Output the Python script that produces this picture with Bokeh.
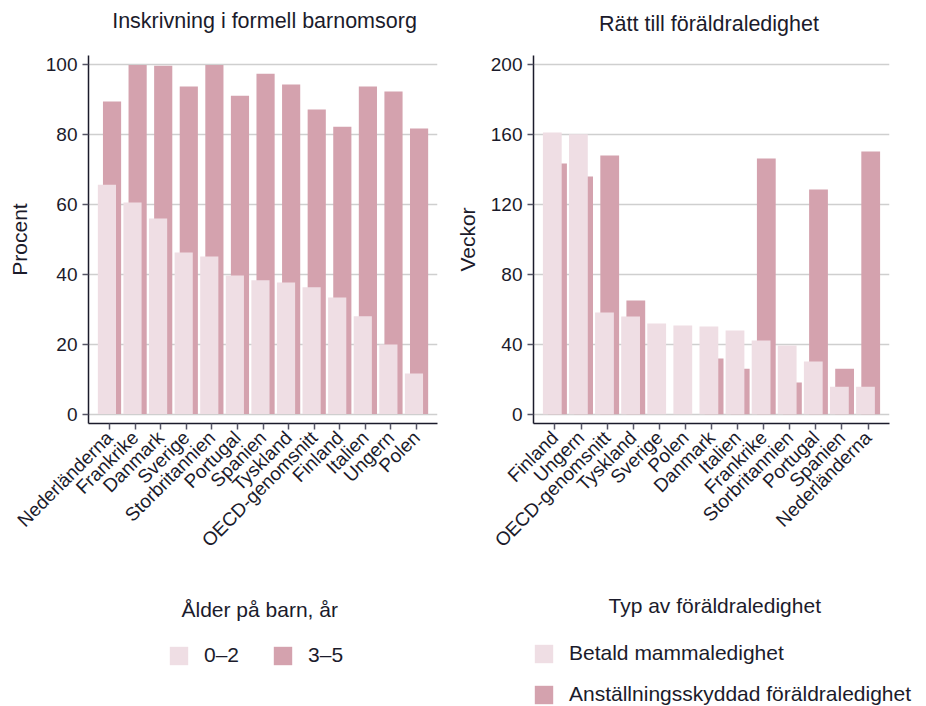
import math
from bokeh.plotting import figure
from bokeh.models import (FactorRange, Range1d, Legend, LegendItem, Label,
                          ColumnDataSource, FixedTicker)
from bokeh.transform import dodge
from bokeh.layouts import row, column
from bokeh.embed import file_html
from bokeh.resources import INLINE

# ---- data: enrolment in formal childcare (%) ----
care_countries = ["Nederländerna", "Frankrike", "Danmark", "Sverige", "Storbritannien",
                  "Portugal", "Spanien", "Tyskland", "OECD-genomsnitt", "Finland",
                  "Italien", "Ungern", "Polen"]
care_0_2 = [65.7, 60.6, 56.0, 46.3, 45.1, 39.7, 38.3, 37.7, 36.3, 33.4, 28.0, 19.9, 11.6]
care_3_5 = [89.5, 100.0, 99.8, 93.8, 100.0, 91.2, 97.5, 94.4, 87.2, 82.3, 93.8, 92.4, 81.8]

# ---- data: right to parental leave (weeks) ----
leave_countries = ["Finland", "Ungern", "OECD-genomsnitt", "Tyskland", "Sverige", "Polen",
                   "Danmark", "Italien", "Frankrike", "Storbritannien", "Portugal",
                   "Spanien", "Nederländerna"]
leave_paid = [161.3, 160.3, 58.2, 55.9, 51.9, 50.8, 50.2, 47.9, 42.2, 39.3, 30.2, 15.8, 15.8]
leave_protected = [143.5, 136.1, 148.1, 65.1, 0, 0, 31.9, 26.1, 146.4, 18.1, 128.6, 26.1, 150.4]

care_ticks = [0, 20, 40, 60, 80, 100]
leave_ticks = [0, 40, 80, 120, 160, 200]

LIGHT = "#efdee4"
DARK = "#d4a2ae"
TEXT = "#1b1b2b"
GRID = "#cfcfcf"
FONT = "Liberation Sans"

HEAD_H = 40
MAIN_H = 535
LEG_H = 131
W1, W2 = 448, 478


def style(p, ylabel):
    p.outline_line_color = None
    p.xgrid.grid_line_color = None
    p.ygrid.grid_line_color = GRID
    p.ygrid.grid_line_width = 1.5
    for ax in (p.xaxis[0], p.yaxis[0]):
        ax.axis_line_color = TEXT
        ax.axis_line_width = 1.5
        ax.major_tick_line_color = "#555566"
        ax.major_tick_line_width = 1.5
        ax.major_tick_out = 6
        ax.major_tick_in = 0
        ax.minor_tick_line_color = None
        ax.major_label_text_font = FONT
        ax.major_label_text_font_size = "19px"
        ax.major_label_text_color = TEXT
    p.xaxis.major_label_orientation = math.pi / 4
    p.yaxis.axis_label = ylabel
    p.yaxis.axis_label_text_font = FONT
    p.yaxis.axis_label_text_font_size = "21px"
    p.yaxis.axis_label_text_font_style = "normal"
    p.yaxis.axis_label_text_color = TEXT


def blank_fig(width, height, x_range, y_range):
    f = figure(width=width, height=height, x_range=x_range, y_range=y_range,
               x_axis_type=None, y_axis_type=None, toolbar_location=None,
               output_backend="svg", min_border=0)
    f.outline_line_color = None
    return f


def text_label(x, y, text, size="21px", align="left"):
    return Label(x=x, y=y, x_units="screen", y_units="screen", text=text,
                 text_font=FONT, text_font_size=size, text_color=TEXT,
                 text_baseline="alphabetic", text_align=align)


# ---------------- headers (chart titles) ----------------
h1 = blank_fig(W1, HEAD_H, Range1d(0, 1), Range1d(0, 1))
h1.add_layout(text_label(264, 19.5, "Inskrivning i formell barnomsorg", "21.5px", "center"))
h2 = blank_fig(W2, HEAD_H, Range1d(0, 1), Range1d(0, 1))
h2.add_layout(text_label(708.5 - W1, 16.5, "Rätt till föräldraledighet", "21.5px", "center"))

# ---------------- left chart ----------------
src1 = ColumnDataSource(dict(c=care_countries, a=care_0_2, b=care_3_5))
p1 = figure(x_range=FactorRange(*care_countries, range_padding=0.32,
                                range_padding_units="absolute"),
            y_range=Range1d(-2.7, 102.7),
            width=W1, height=MAIN_H, output_backend="svg", toolbar_location=None,
            min_border_left=88, min_border_right=W1 - 437, min_border_top=15,
            min_border_bottom=152)
p1.vbar(x=dodge("c", 0.1, range=p1.x_range), top="b", width=0.71,
        source=src1, fill_color=DARK, line_color=None)
p1.vbar(x=dodge("c", -0.1, range=p1.x_range), top="a", width=0.71,
        source=src1, fill_color=LIGHT, line_color=None)
style(p1, "Procent")
p1.yaxis.ticker = FixedTicker(ticks=care_ticks)
p1.yaxis.axis_label_standoff = 12

# ---------------- right chart ----------------
src2 = ColumnDataSource(dict(c=leave_countries, a=leave_paid, b=leave_protected))
p2 = figure(x_range=FactorRange(*leave_countries, range_padding=0.32,
                                range_padding_units="absolute"),
            y_range=Range1d(-5.3, 205.3),
            width=W2, height=MAIN_H, output_backend="svg", toolbar_location=None,
            min_border_left=533 - W1, min_border_right=37, min_border_top=15,
            min_border_bottom=152)
p2.vbar(x=dodge("c", 0.1, range=p2.x_range), top="b", width=0.72,
        source=src2, fill_color=DARK, line_color=None)
p2.vbar(x=dodge("c", -0.1, range=p2.x_range), top="a", width=0.72,
        source=src2, fill_color=LIGHT, line_color=None)
style(p2, "Veckor")
p2.yaxis.ticker = FixedTicker(ticks=leave_ticks)
p2.yaxis.axis_label_standoff = 9

# ---------------- legends (hidden copies of the series supply the keys) ----------------
l1 = blank_fig(W1, LEG_H, FactorRange(*care_countries), Range1d(0, 100))
k1a = l1.vbar(x="c", top="a", width=0.5, source=src1, fill_color=LIGHT,
              line_color=None, visible=False)
k1b = l1.vbar(x="c", top="b", width=0.5, source=src1, fill_color=DARK,
              line_color=None, visible=False)
leg1 = Legend(items=[LegendItem(label="0–2", renderers=[k1a]),
                     LegendItem(label="3–5", renderers=[k1b])],
              orientation="horizontal", location=(167, 39),
              glyph_width=23, glyph_height=23, label_standoff=14, spacing=32,
              padding=0, margin=0, border_line_color=None,
              background_fill_alpha=0, inactive_fill_alpha=0,
              label_text_font=FONT, label_text_font_size="21px",
              label_text_color=TEXT)
l1.add_layout(leg1, "center")
l1.add_layout(text_label(181, 97, "Ålder på barn, år"))

l2 = blank_fig(W2, LEG_H, FactorRange(*leave_countries), Range1d(0, 200))
k2a = l2.vbar(x="c", top="a", width=0.5, source=src2, fill_color=LIGHT,
              line_color=None, visible=False)
k2b = l2.vbar(x="c", top="b", width=0.5, source=src2, fill_color=DARK,
              line_color=None, visible=False)
leg2 = Legend(items=[LegendItem(label="Betald mammaledighet", renderers=[k2a]),
                     LegendItem(label="Anställningsskyddad föräldraledighet", renderers=[k2b])],
              orientation="vertical", location=(532 - W1, 0),
              glyph_width=23, glyph_height=23, label_standoff=14, spacing=17,
              padding=0, margin=0, border_line_color=None,
              background_fill_alpha=0, inactive_fill_alpha=0,
              label_text_font=FONT, label_text_font_size="21px",
              label_text_color=TEXT)
l2.add_layout(leg2, "center")
l2.add_layout(text_label(608 - W1, 101, "Typ av föräldraledighet"))

layout = column(row(h1, h2), row(p1, p2), row(l1, l2))
open("out.html", "w").write(file_html(layout, INLINE))
